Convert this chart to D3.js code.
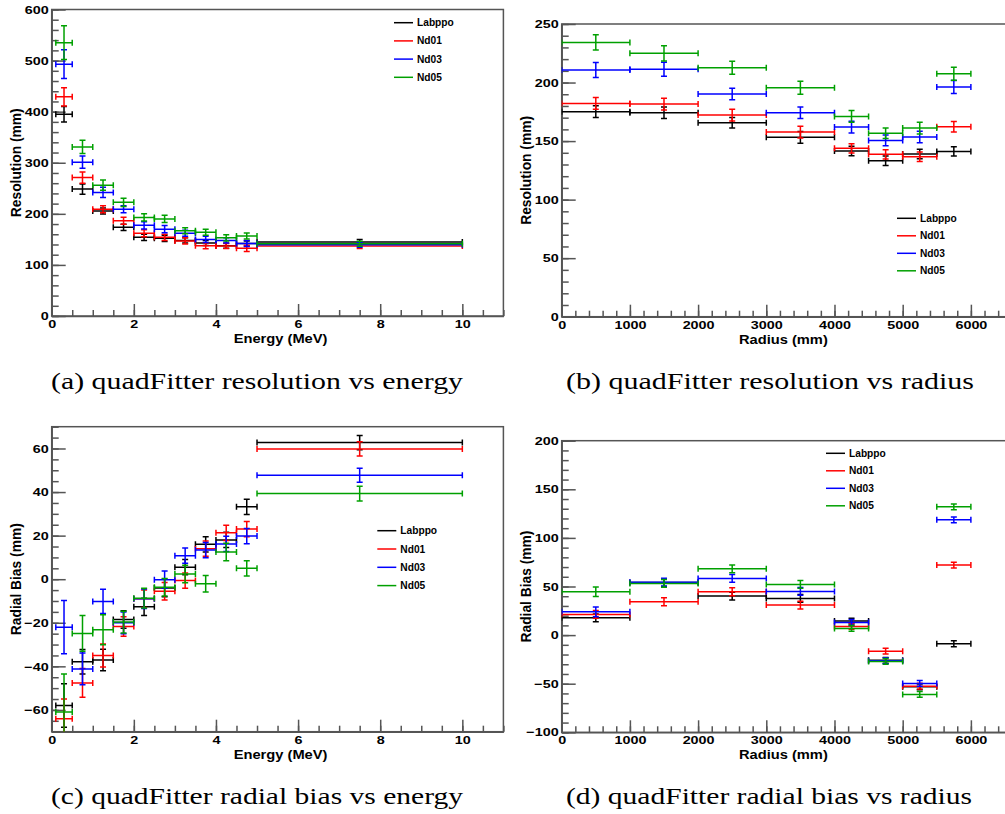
<!DOCTYPE html>
<html>
<head>
<meta charset="utf-8">
<script src="https://cdn.jsdelivr.net/npm/d3@7"></script>
<style>
  body { margin: 0; background: #fff; }
  svg { display: block; }
</style>
</head>
<body>
<div id="chart_div"></div>
<script>
// series names and colours (same for all four panels)
const seriesNames = ["Labppo", "Nd01", "Nd03", "Nd05"];
const seriesColors = ["#000000", "#ff0000", "#0000ff", "#00a000"];

// energy bins (MeV)
const energyCenter = [0.3, 0.75, 1.25, 1.75, 2.25, 2.75, 3.25, 3.75, 4.25, 4.75, 7.5];
const energyHalfWidth = [0.2, 0.25, 0.25, 0.25, 0.25, 0.25, 0.25, 0.25, 0.25, 0.25, 2.5];

// radius bins (mm)
const radiusCenter = [500, 1500, 2500, 3500, 4250, 4750, 5250, 5750];
const radiusHalfWidth = [500, 500, 500, 500, 250, 250, 250, 250];

// (a) resolution vs energy (mm)
const resEnergy = [
  [395, 248.5, 205.5, 173.5, 154, 152, 148, 143, 137.6, 142, 144.8],
  [429, 271, 209, 186.5, 162, 154, 147, 137.6, 137, 132.5, 137],
  [493, 301, 242, 209, 177.5, 170, 162, 150, 148, 142, 139.5],
  [535, 331, 256, 222.5, 193, 190, 167, 164, 153, 156.5, 141.5]
];
const resEnergyErr = [
  [15, 10, 6, 6, 6, 6, 5, 5, 5, 5, 5],
  [18, 11, 7, 7, 7, 6, 6, 6, 5, 6, 5],
  [28, 12, 10, 7, 7, 7, 6, 6, 5, 6, 5],
  [33, 13, 10, 8, 7, 7, 6, 6, 6, 6, 5]
];

// (b) resolution vs radius (mm)
const resRadius = [
  [175.1, 174.2, 165.7, 153.2, 141.5, 133.2, 139, 141.2],
  [182.2, 181.6, 172.2, 157.7, 143.8, 138.7, 136.6, 162.3],
  [210.7, 211.3, 190.2, 174.2, 162, 150.6, 153.5, 196.2],
  [234.3, 225, 212.6, 195.6, 171.1, 156.6, 161.1, 207.5]
];
const resRadiusErr = [
  [5, 5, 4.5, 5, 4, 4, 4, 4],
  [5, 5, 5, 5, 4, 4, 4, 4.5],
  [6.5, 6, 5, 5, 5, 4.5, 5, 5.5],
  [6.5, 6.5, 5.5, 5.5, 5, 4.5, 5, 5.5]
];

// (c) radial bias vs energy (mm)
const biasEnergy = [
  [-58, -37.9, -37.1, -18.5, -12.7, -4, 5.5, 16, 18, 33.2, 62.7],
  [-64, -47.6, -35, -21.7, -9, -5.5, -0.6, 14, 21.3, 23, 59.8],
  [-22, -41.2, -10.2, -20, -9, -0.2, 10.8, 13.4, 16.2, 19.8, 47.7],
  [-61, -24.9, -23.2, -19.7, -8.7, -3.7, 2.4, -2.1, 12.5, 5, 39.3]
];
const biasEnergyErr = [
  [10, 5.6, 4.9, 4, 4, 4, 3.5, 3.5, 3.5, 3.5, 3.3],
  [9, 6.6, 5.3, 4.5, 4, 4, 3.5, 3.5, 3.5, 3.5, 3.3],
  [12.2, 7.3, 5.6, 5, 4.5, 4, 3.5, 3.5, 3.5, 3.5, 3.2],
  [17.5, 8.2, 6.9, 5, 4.5, 4, 4, 3.8, 4, 3.5, 3.4]
];

// (d) radial bias vs radius (mm)
const biasRadius = [
  [17.8, 54, 40.1, 37.7, 14.4, -26, -53.2, -8.9],
  [21.3, 34.3, 44.6, 30.9, 8.9, -16.5, -52.5, 72],
  [24, 54.5, 58.3, 44.9, 13, -26.4, -49.7, 118.6],
  [44.6, 53.2, 68.2, 52.1, 6.9, -27.1, -61, 132]
];
const biasRadiusErr = [
  [4, 4, 4, 4, 3, 3, 3, 3],
  [4, 4, 4, 4, 3, 3, 3, 3],
  [5, 4, 4, 4, 3, 3, 3, 3],
  [5, 4, 4, 4, 3, 3, 3, 3]
];

const width = 1005;
const height = 814;
const axisColor = "#555";
const sansFont = "'Liberation Sans', Arial, sans-serif";
const serifFont = "'Liberation Serif', 'Times New Roman', serif";
const stretch = 1.25; // tick labels are horizontally stretched in the original

const svg = d3.select("#chart_div").append("svg")
  .attr("width", width)
  .attr("height", height);

function range(start, stop, step) {
  const out = [];
  for (let v = start; v <= stop + 1e-9; v += step) out.push(+v.toFixed(6));
  return out;
}

/**
 * Draws one ROOT-style panel with error-bar graphs.
 */
function drawPanel(cfg) {
  const g = svg.append("g");
  const x = d3.scaleLinear().domain(cfg.xDomain).range([cfg.left, cfg.right]);
  const y = d3.scaleLinear().domain(cfg.yDomain).range([cfg.bottom, cfg.top]);

  // frame
  g.append("rect")
    .attr("x", cfg.left)
    .attr("y", cfg.top)
    .attr("width", cfg.right - cfg.left)
    .attr("height", cfg.bottom - cfg.top)
    .attr("fill", "none")
    .attr("stroke", axisColor)
    .attr("stroke-width", 1.5);

  // minor ticks
  g.append("g")
    .attr("transform", `translate(0,${cfg.bottom})`)
    .call(d3.axisBottom(x).tickValues(cfg.xMinor).tickSize(-6).tickFormat(""))
    .call(a => a.select(".domain").remove());
  g.append("g")
    .attr("transform", `translate(${cfg.left},0)`)
    .call(d3.axisLeft(y).tickValues(cfg.yMinor).tickSize(-7).tickFormat(""))
    .call(a => a.select(".domain").remove());

  // major ticks with labels
  const xAxis = g.append("g")
    .attr("transform", `translate(0,${cfg.bottom})`)
    .call(d3.axisBottom(x).tickValues(cfg.xMajor).tickSize(-12).tickSizeOuter(0).tickPadding(4).tickFormat(d3.format("d")));
  const yAxis = g.append("g")
    .attr("transform", `translate(${cfg.left},0)`)
    .call(d3.axisLeft(y).tickValues(cfg.yMajor).tickSize(-14).tickSizeOuter(0).tickPadding(3).tickFormat(d3.format("d")));

  g.selectAll(".tick line")
    .attr("stroke", axisColor)
    .attr("stroke-width", 1.5);
  [xAxis, yAxis].forEach(a => {
    a.select(".domain").attr("stroke", axisColor).attr("stroke-width", 1.5);
    a.selectAll("text")
      .attr("fill", "#000")
      .attr("font-family", sansFont)
      .attr("font-weight", "bold")
      .attr("font-size", 11.5);
  });
  yAxis.selectAll("text")
    .attr("x", -3 / stretch)
    .attr("transform", `scale(${stretch},1)`);
  xAxis.selectAll("text")
    .attr("transform", `scale(${stretch},1)`);

  // axis titles
  const xMid = (cfg.left + Math.min(cfg.right, width)) / 2 + cfg.xTitleShift;
  g.append("text")
    .attr("transform", `translate(${xMid},${cfg.bottom + 27}) scale(1.13,1)`)
    .attr("text-anchor", "middle")
    .attr("font-family", sansFont)
    .attr("font-weight", "bold")
    .attr("font-size", 13)
    .text(cfg.xTitle);
  g.append("text")
    .attr("transform", `translate(${cfg.left - 31},${(cfg.top + cfg.bottom) / 2}) rotate(-90)`)
    .attr("text-anchor", "middle")
    .attr("font-family", sansFont)
    .attr("font-weight", "bold")
    .attr("font-size", 13.8)
    .text(cfg.yTitle);

  // error bars
  const cap = 3;
  const clipId = "clip" + cfg.id;
  svg.append("clipPath").attr("id", clipId)
    .append("rect")
    .attr("x", cfg.left).attr("y", cfg.top)
    .attr("width", cfg.right - cfg.left).attr("height", cfg.bottom - cfg.top);
  const plot = g.append("g").attr("clip-path", `url(#${clipId})`);

  cfg.values.forEach((vals, s) => {
    const points = vals.map((v, i) => ({
      x: cfg.xCenter[i], ex: cfg.xHalf[i], y: v, ey: cfg.errors[s][i]
    }));
    const sg = plot.append("g")
      .attr("stroke", seriesColors[s])
      .attr("stroke-width", 1.5)
      .attr("fill", "none");
    const pts = sg.selectAll("g").data(points).join("g");
    pts.append("line")
      .attr("x1", d => x(d.x - d.ex)).attr("x2", d => x(d.x + d.ex))
      .attr("y1", d => y(d.y)).attr("y2", d => y(d.y));
    pts.append("line")
      .attr("x1", d => x(d.x)).attr("x2", d => x(d.x))
      .attr("y1", d => y(d.y - d.ey)).attr("y2", d => y(d.y + d.ey));
    // end caps
    [-1, 1].forEach(k => {
      pts.append("line")
        .attr("x1", d => x(d.x + k * d.ex)).attr("x2", d => x(d.x + k * d.ex))
        .attr("y1", d => y(d.y) - cap).attr("y2", d => y(d.y) + cap);
      pts.append("line")
        .attr("x1", d => x(d.x) - cap).attr("x2", d => x(d.x) + cap)
        .attr("y1", d => y(d.y + k * d.ey)).attr("y2", d => y(d.y + k * d.ey));
    });
  });

  // legend
  const leg = g.append("g");
  seriesNames.forEach((name, s) => {
    const ly = cfg.legendY + s * cfg.legendStep;
    leg.append("line")
      .attr("x1", cfg.legendX).attr("x2", cfg.legendX + 19)
      .attr("y1", ly).attr("y2", ly)
      .attr("stroke", seriesColors[s])
      .attr("stroke-width", 1.5);
    leg.append("text")
      .attr("x", cfg.legendX + 23)
      .attr("y", ly)
      .attr("dy", "0.35em")
      .attr("font-family", sansFont)
      .attr("font-weight", "bold")
      .attr("font-size", 10.2)
      .text(name);
  });

  // caption
  svg.append("text")
    .attr("x", cfg.captionX)
    .attr("y", cfg.captionY)
    .attr("font-family", serifFont)
    .attr("font-size", 24)
    .attr("textLength", cfg.captionW)
    .attr("lengthAdjust", "spacingAndGlyphs")
    .text(cfg.caption);
}

const energyMinor = range(0, 11, 0.5);
const energyMajor = [0, 2, 4, 6, 8, 10];
const radiusMinor = range(0, 6600, 200);
const radiusMajor = [0, 1000, 2000, 3000, 4000, 5000, 6000];

drawPanel({
  id: "a",
  left: 51.7, right: 503.4, top: 9.5, bottom: 316,
  xDomain: [0, 11], yDomain: [0, 600],
  xMajor: energyMajor, xMinor: energyMinor,
  yMajor: range(0, 600, 100), yMinor: range(0, 600, 20),
  xTitle: "Energy (MeV)", yTitle: "Resolution (mm)", xTitleShift: 3,
  xCenter: energyCenter, xHalf: energyHalfWidth,
  values: resEnergy, errors: resEnergyErr,
  legendX: 394, legendY: 22.7, legendStep: 18.2,
  caption: "(a) quadFitter resolution vs energy", captionX: 51, captionY: 389, captionW: 412
});

drawPanel({
  id: "b",
  left: 561.7, right: 1011.8, top: 24, bottom: 316.7,
  xDomain: [0, 6600], yDomain: [0, 250],
  xMajor: radiusMajor, xMinor: radiusMinor,
  yMajor: range(0, 250, 50), yMinor: range(0, 250, 10),
  xTitle: "Radius (mm)", yTitle: "Resolution (mm)", xTitleShift: 0,
  xCenter: radiusCenter, xHalf: radiusHalfWidth,
  values: resRadius, errors: resRadiusErr,
  legendX: 897, legendY: 218.3, legendStep: 17.5,
  caption: "(b) quadFitter resolution vs radius", captionX: 566, captionY: 389, captionW: 408
});

drawPanel({
  id: "c",
  left: 51.7, right: 503.4, top: 426.7, bottom: 731.7,
  xDomain: [0, 11], yDomain: [-70, 70],
  xMajor: energyMajor, xMinor: energyMinor,
  yMajor: range(-60, 60, 20), yMinor: range(-70, 70, 5),
  xTitle: "Energy (MeV)", yTitle: "Radial Bias (mm)", xTitleShift: 3,
  xCenter: energyCenter, xHalf: energyHalfWidth,
  values: biasEnergy, errors: biasEnergyErr,
  legendX: 377.3, legendY: 530.7, legendStep: 18.3,
  caption: "(c) quadFitter radial bias vs energy", captionX: 51, captionY: 804, captionW: 412
});

drawPanel({
  id: "d",
  left: 561.7, right: 1011.8, top: 440.7, bottom: 732.3,
  xDomain: [0, 6600], yDomain: [-100, 200],
  xMajor: radiusMajor, xMinor: radiusMinor,
  yMajor: range(-100, 200, 50), yMinor: range(-100, 200, 10),
  xTitle: "Radius (mm)", yTitle: "Radial Bias (mm)", xTitleShift: 0,
  xCenter: radiusCenter, xHalf: radiusHalfWidth,
  values: biasRadius, errors: biasRadiusErr,
  legendX: 826, legendY: 453.3, legendStep: 17.5,
  caption: "(d) quadFitter radial bias vs radius", captionX: 566, captionY: 804, captionW: 406
});
</script>
</body>
</html>
